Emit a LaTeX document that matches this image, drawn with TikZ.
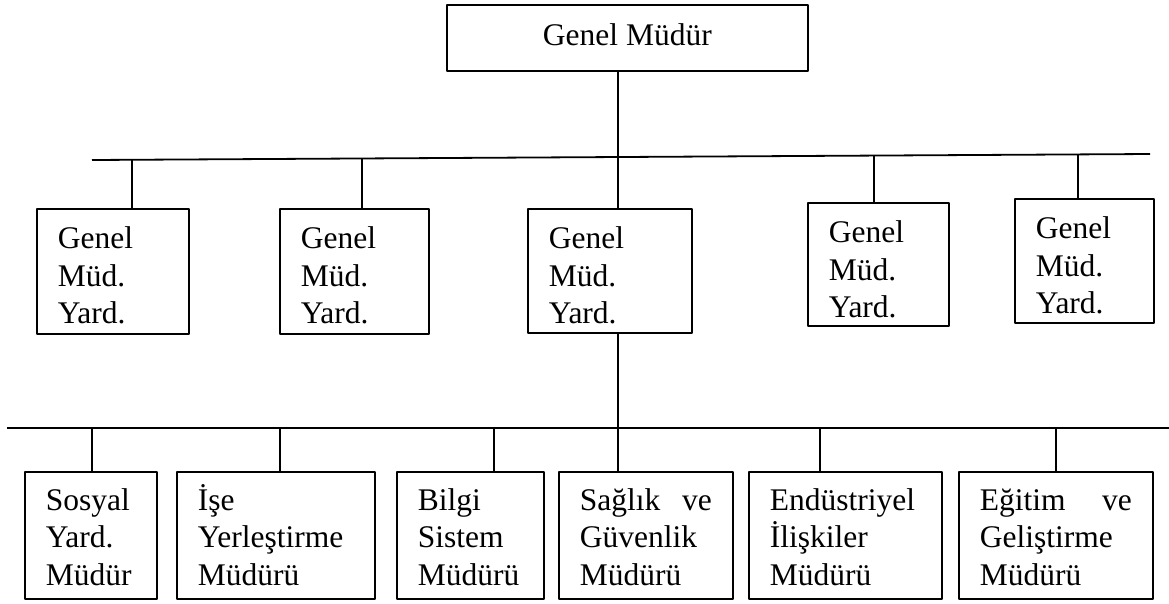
\documentclass[tikz,border=0pt]{standalone}
\usepackage{fontspec}
\setmainfont{Liberation Serif}
\begin{document}
\begin{tikzpicture}[x=1pt, y=-1pt, line join=round, font=\fontsize{31.5}{37.3}\selectfont,
 unit/.style={draw, line width=1.8pt, anchor=north west, align=left, inner xsep=21pt, inner ysep=0pt, text width=#1},
 wire/.style={line width=1.7pt}]
 \useasboundingbox (0,0) rectangle (1169,603);
 \node[draw, line width=1.8pt, anchor=north west, minimum width=361pt, inner sep=0pt, text height=41pt, text depth=25pt] (gm) at (446,4) {Genel Müdür};
 % yardimcilar
 \node[unit=110pt, text height=40pt, text depth=85pt] (yrd1) at (36,208) {Genel\\Müd.\\Yard.};
 \node[unit=107pt, text height=40pt, text depth=85pt] (yrd2) at (279,208) {Genel\\Müd.\\Yard.};
 \node[unit=122pt, text height=40pt, text depth=84pt] (yrd3) at (527,208) {Genel\\Müd.\\Yard.};
 \node[unit=99pt, text height=40pt, text depth=83pt] (yrd4) at (807,202) {Genel\\Müd.\\Yard.};
 \node[unit=97pt, text height=40pt, text depth=83.7pt] (yrd5) at (1014,198) {Genel\\Müd.\\Yard.};
 % mudurlukler
 \node[unit=90pt, text height=39pt, text depth=88.3pt] (md1) at (24,470.7) {Sosyal\\Yard.\\Müdür};
 \node[unit=156pt, text height=39pt, text depth=88.3pt] (md2) at (176,470.7) {İşe\\Yerleştirme\\Müdürü};
 \node[unit=105pt, text height=39pt, text depth=88.3pt] (md3) at (396,470.7) {Bilgi\\Sistem\\Müdürü};
 \node[unit=132pt, text height=39pt, text depth=88.3pt] (md4) at (558,470.7) {Sağlık\hfill ve\\Güvenlik\\Müdürü};
 \node[unit=151pt, text height=39pt, text depth=88.3pt] (md5) at (748,470.7) {Endüstriyel\\İlişkiler\\Müdürü};
 \node[unit=152pt, text height=39pt, text depth=88.3pt] (md6) at (958,470.7) {Eğitim\hfill ve\\Geliştirme\\Müdürü};
 % hatlar
 \coordinate (upL) at (92,160);
 \coordinate (upR) at (1150,154);
 \coordinate (loL) at (7,428);
 \coordinate (loR) at (1169,428);
 \coordinate (sp) at (618,0);
 \draw[line width=1.8pt] (upL) -- (upR);
 \draw[line width=1.8pt] (loL) -- (loR);
 \draw[wire] (gm.south -| sp) -- (yrd3.north -| sp);
 \draw[wire] (yrd3.south -| sp) -- (md4.north -| sp);
 \foreach \n/\x/\y in {yrd1/132/159.8, yrd2/362/158.5, yrd4/874/155.6, yrd5/1078/154.4}{
  \coordinate (up\n) at (\x,\y);
  \draw[wire] (up\n) -- (up\n |- \n.north);
 }
 \foreach \n/\x in {md1/92, md2/280, md3/494, md5/820, md6/1056}{
  \coordinate (lo\n) at (\x,428);
  \draw[wire] (lo\n) -- (lo\n |- \n.north);
 }
\end{tikzpicture}
\end{document}
